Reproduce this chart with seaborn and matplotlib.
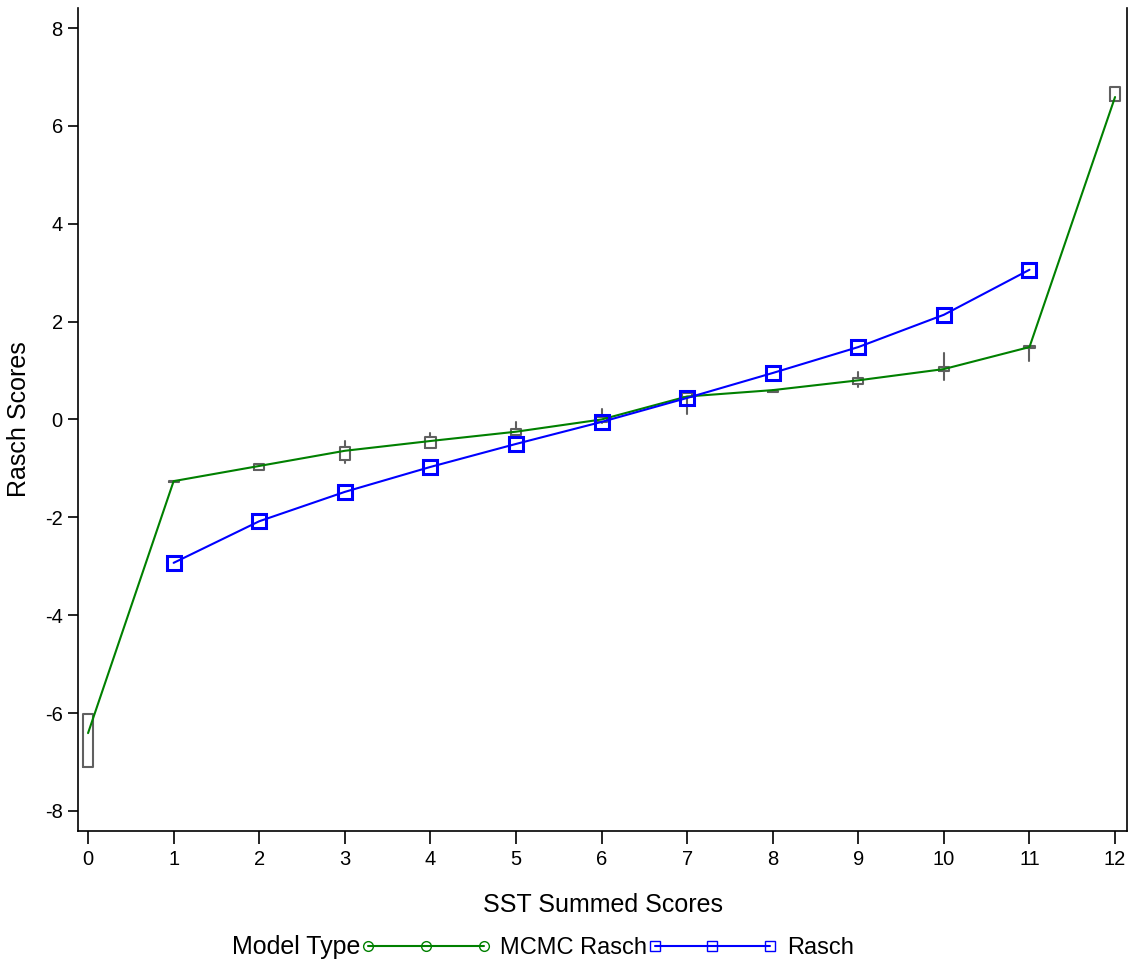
import matplotlib
matplotlib.use("Agg")
import matplotlib.pyplot as plt
import seaborn as sns
import pandas as pd
from matplotlib.lines import Line2D

sns.set_theme(style="white")
plt.rcParams["font.family"] = ["Liberation Sans", "DejaVu Sans"]
plt.rcParams["axes.unicode_minus"] = False
plt.rcParams["text.color"] = "black"
plt.rcParams["axes.labelcolor"] = "black"
plt.rcParams["xtick.color"] = "black"
plt.rcParams["ytick.color"] = "black"

# ---- data ----
scores = [0, 1, 2, 3, 4, 5, 6, 7, 8, 9, 10, 11, 12]
mcmc_mean = [-6.41, -1.26, -0.95, -0.64, -0.44, -0.25, 0.00, 0.47, 0.60, 0.80, 1.03, 1.48, 6.59]
rasch_x = [1, 2, 3, 4, 5, 6, 7, 8, 9, 10, 11]
rasch_y = [-2.93, -2.08, -1.48, -0.97, -0.50, -0.05, 0.44, 0.95, 1.48, 2.14, 3.06]
box_q1 = [-7.11, -1.27, -1.03, -0.83, -0.58, -0.32, -0.05, 0.46, 0.57, 0.73, 0.99, 1.46, 6.51]
box_med = [-6.50, -1.26, -0.97, -0.70, -0.47, -0.25, 0.00, 0.50, 0.58, 0.79, 1.03, 1.48, 6.60]
box_q3 = [-6.02, -1.25, -0.91, -0.56, -0.36, -0.19, 0.05, 0.54, 0.59, 0.85, 1.07, 1.50, 6.80]
box_lo = [-7.11, -1.27, -1.03, -0.89, -0.59, -0.32, -0.08, 0.11, 0.56, 0.67, 0.81, 1.20, 6.51]
box_hi = [-6.02, -1.25, -0.91, -0.44, -0.28, -0.05, 0.21, 0.54, 0.60, 0.97, 1.36, 1.50, 6.80]
yticks = [-8, -6, -4, -2, 0, 2, 4, 6, 8]

df = pd.DataFrame({
    "score": scores + rasch_x,
    "value": mcmc_mean + rasch_y,
    "model": ["MCMC Rasch"] * len(scores) + ["Rasch"] * len(rasch_x),
})

fig = plt.figure(figsize=(11.31, 9.61), dpi=100)
ax = fig.add_axes([0.069, 0.1353, 0.9275, 0.8564])

stats = []
for i, s in enumerate(scores):
    stats.append(dict(med=box_med[i], q1=box_q1[i], q3=box_q3[i],
                      whislo=box_lo[i], whishi=box_hi[i], fliers=[]))
ax.bxp(stats, positions=scores, widths=0.12, showfliers=False, showcaps=False,
       boxprops=dict(color="#606060", linewidth=1.5),
       whiskerprops=dict(color="#606060", linewidth=1.5),
       medianprops=dict(color="#606060", linewidth=0),
       manage_ticks=False, zorder=2)

sns.lineplot(data=df, x="score", y="value", hue="model",
             palette={"MCMC Rasch": "#008000", "Rasch": "#0000FF"},
             linewidth=1.5, legend=False, ax=ax, zorder=3, estimator=None)
ax.plot(rasch_x, rasch_y, linestyle="none", marker="s", markersize=10,
        markerfacecolor="none", markeredgecolor="#0000FF", markeredgewidth=2.2, zorder=4)

ax.set_xlim(-0.117, 12.14)
ax.set_ylim(-8.41, 8.41)
ax.set_xticks(scores)
ax.set_xticklabels([str(s) for s in scores])
ax.set_yticks(yticks)
ax.set_yticklabels([str(t) for t in yticks])
ax.tick_params(axis="both", labelsize=14.5, width=1.2, direction="out",
               bottom=True, left=True)
ax.tick_params(axis="x", length=9, pad=5)
ax.tick_params(axis="y", length=7, pad=4)
ax.set_xlabel("SST Summed Scores", fontsize=18, labelpad=17)
ax.set_ylabel("Rasch Scores", fontsize=18, labelpad=10)
for side in ["left", "bottom", "right"]:
    ax.spines[side].set_visible(True)
    ax.spines[side].set_color("black")
    ax.spines[side].set_linewidth(1.2)
ax.spines["top"].set_visible(False)
ax.grid(False)

handles = [
    Line2D([0], [0], color="#008000", linewidth=1.5, marker="o", markersize=7,
           markerfacecolor="none", markeredgecolor="#008000"),
    Line2D([0], [0], color="#0000FF", linewidth=1.5, marker="s", markersize=7,
           markerfacecolor="none", markeredgecolor="#0000FF"),
]
fig.text(0.205, 0.002, "Model Type", fontsize=18, ha="left", va="bottom")
fig.legend(handles, ["MCMC Rasch", "Rasch"], loc="lower left",
           bbox_to_anchor=(0.311, -0.008), ncol=2, frameon=False, fontsize=17,
           numpoints=3, handlelength=5.5, handletextpad=0.4, columnspacing=0.0,
           borderaxespad=0.0)

fig.savefig("out.png", dpi=100)
